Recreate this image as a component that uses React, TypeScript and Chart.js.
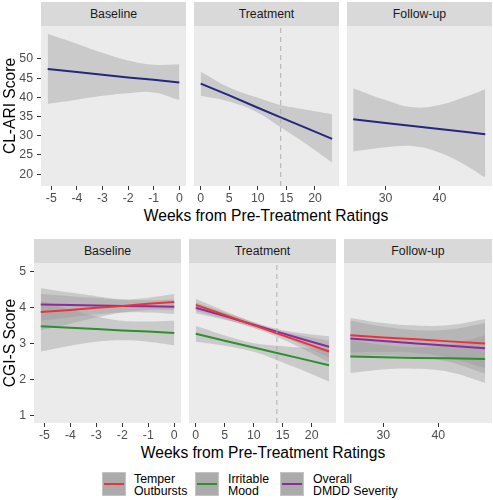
import React, { useEffect, useRef } from 'react';
import { Chart, registerables } from 'chart.js';
Chart.register(...registerables);

const FONT = '"Liberation Sans", Arial, Helvetica, sans-serif';
const BAND = 'rgba(153,153,153,0.4)';

// ---------- categories / ticks ----------
const phases = ['Baseline', 'Treatment', 'Follow-up'];
const baselineWeeks = [-5.14, -4, -3, -2, -1, 0];
const treatmentWeeks = [0, 5, 10, 14, 18, 23];
const followWeeksAri = [24.0, 30, 35, 40, 45, 48.5];
const followWeeksCgi = [24.0, 30, 36, 42, 48.5];
const baselineTicks = [-5, -4, -3, -2, -1, 0];
const treatmentTicks = [0, 5, 10, 15, 20];
const followTicks = [30, 40];
const ariTicks = [20, 25, 30, 35, 40, 45, 50];
const cgiTicks = [1, 2, 3, 4, 5];
const medicationWeek = 14;

const legendLabels = [['Temper', 'Outbursts'], ['Irritable', 'Mood'], ['Overall', 'DMDD Severity']];
const ARI_COLOR = '#262682';
const seriesColors = ['#EA3339', '#2E8F2E', '#8E2A9E'];

// ---------- CL-ARI (top) ----------
const ariBaseFit = [47.4, 46.6, 45.9, 45.2, 44.6, 43.9];
const ariBaseHi = [56.5, 54.0, 51.6, 49.6, 48.5, 48.6];
const ariBaseLo = [38.3, 39.4, 40.4, 41.1, 41.3, 39.3];

const ariTreatFit = [43.6, 40.5, 37.3, 34.8, 32.3, 29.2];
const ariTreatHi = [46.7, 42.6, 39.9, 38.0, 36.9, 35.6];
const ariTreatLo = [40.4, 38.9, 36.0, 32.2, 28.3, 23.0];

const ariFollowFit = [34.3, 33.35, 32.55, 31.75, 30.95, 30.4];
const ariFollowHi = [42.4, 39.3, 37.4, 38.0, 40.2, 42.1];
const ariFollowLo = [25.9, 27.0, 27.3, 25.6, 22.2, 19.1];

// ---------- CGI-S (bottom) ----------
// Temper Outbursts
const temperBaseFit = [3.87, 3.93, 3.99, 4.04, 4.10, 4.15];
const temperBaseHi = [4.37, 4.31, 4.26, 4.22, 4.27, 4.37];
const temperBaseLo = [3.37, 3.55, 3.72, 3.86, 3.93, 3.93];
const temperTreatFit = [4.07, 3.79, 3.51, 3.28, 3.06, 2.78];
const temperTreatHi = [4.24, 3.90, 3.59, 3.37, 3.23, 3.08];
const temperTreatLo = [3.90, 3.68, 3.43, 3.19, 2.89, 2.48];
const temperFollowFit = [3.23, 3.17, 3.12, 3.06, 3.00];
const temperFollowHi = [3.71, 3.57, 3.50, 3.51, 3.68];
const temperFollowLo = [2.75, 2.77, 2.74, 2.61, 2.32];

// Irritable Mood
const moodBaseFit = [3.48, 3.44, 3.40, 3.36, 3.33, 3.29];
const moodBaseHi = [4.18, 3.94, 3.75, 3.63, 3.61, 3.63];
const moodBaseLo = [2.78, 2.94, 3.05, 3.09, 3.05, 2.95];
const moodTreatFit = [3.27, 3.08, 2.89, 2.74, 2.59, 2.40];
const moodTreatHi = [3.49, 3.22, 3.01, 2.94, 2.89, 2.85];
const moodTreatLo = [3.05, 2.94, 2.77, 2.54, 2.29, 1.95];
const moodFollowFit = [2.64, 2.62, 2.60, 2.59, 2.57];
const moodFollowHi = [3.10, 2.96, 2.90, 2.97, 3.23];
const moodFollowLo = [2.18, 2.28, 2.30, 2.21, 1.91];

// Overall DMDD Severity
const overallBaseFit = [4.08, 4.07, 4.055, 4.04, 4.03, 4.02];
const overallBaseHi = [4.53, 4.41, 4.31, 4.22, 4.20, 4.22];
const overallBaseLo = [3.63, 3.73, 3.81, 3.86, 3.86, 3.82];
const overallTreatFit = [3.99, 3.76, 3.52, 3.33, 3.14, 2.91];
const overallTreatHi = [4.14, 3.86, 3.59, 3.41, 3.29, 3.20];
const overallTreatLo = [3.84, 3.66, 3.45, 3.25, 2.99, 2.62];
const overallFollowFit = [3.14, 3.07, 3.00, 2.94, 2.87];
const overallFollowHi = [3.64, 3.47, 3.37, 3.39, 3.57];
const overallFollowLo = [2.64, 2.67, 2.63, 2.49, 2.17];

type Series = { x: number[]; fit: number[]; hi: number[]; lo: number[]; color: string };
type Spec = {
  left: number; top: number; width: number; height: number;
  padL: number; padR: number; yWidth: number;
  xMin: number; xMax: number; yMin: number; yMax: number;
  xTicks: number[]; yTicks: number[];
  series: Series[]; vline?: number;
};

const bgPlugin = {
  id: 'panelBg',
  beforeDraw(chart: any) {
    const { ctx, chartArea: a } = chart;
    ctx.save();
    ctx.fillStyle = '#EBEBEB';
    ctx.fillRect(a.left, a.top, a.right - a.left, a.bottom - a.top);
    ctx.restore();
  },
};

function axisCommon(ticks: number[]) {
  return {
    type: 'linear' as const,
    afterBuildTicks: (sc: any) => { sc.ticks = ticks.map((v) => ({ value: v })); },
    grid: { display: true, drawOnChartArea: false, drawTicks: true, tickLength: 4, tickColor: '#333333', tickWidth: 1 },
    border: { display: false },
    ticks: {
      font: { family: FONT, size: 12.3 },
      color: '#4D4D4D',
      autoSkip: false,
      maxRotation: 0,
      callback: (v: any) => String(v),
    },
  };
}

function Panel({ spec }: { spec: Spec }) {
  const ref = useRef<HTMLCanvasElement>(null);
  useEffect(() => {
    if (!ref.current) return;
    const datasets: any[] = [];
    spec.series.forEach((s) => {
      datasets.push({
        data: s.x.map((x, i) => ({ x, y: s.hi[i] })),
        borderWidth: 0, pointRadius: 0, backgroundColor: BAND, fill: '+1', tension: 0.4, order: 3,
      });
      datasets.push({
        data: s.x.map((x, i) => ({ x, y: s.lo[i] })),
        borderWidth: 0, pointRadius: 0, fill: false, tension: 0.4, order: 3,
      });
    });
    spec.series.forEach((s) => {
      datasets.push({
        data: s.x.map((x, i) => ({ x, y: s.fit[i] })),
        borderColor: s.color, borderWidth: 2, pointRadius: 0, fill: false, tension: 0, order: 2,
      });
    });
    if (spec.vline !== undefined) {
      datasets.push({
        data: [{ x: spec.vline, y: spec.yMin }, { x: spec.vline, y: spec.yMax }],
        borderColor: '#AFAFAF', borderWidth: 1, borderDash: [5, 4], pointRadius: 0, fill: false, order: 1,
      });
    }
    const xAxis: any = axisCommon(spec.xTicks);
    xAxis.min = spec.xMin; xAxis.max = spec.xMax;
    xAxis.ticks.padding = 1;
    xAxis.afterFit = (sc: any) => { sc.height = 20; };
    const yAxis: any = axisCommon(spec.yTicks);
    yAxis.min = spec.yMin; yAxis.max = spec.yMax;
    yAxis.display = spec.yWidth > 0;
    yAxis.ticks.padding = 4;
    yAxis.afterFit = (sc: any) => { sc.width = spec.yWidth; };
    const chart = new Chart(ref.current, {
      type: 'line',
      data: { datasets },
      options: {
        animation: false,
        responsive: false,
        events: [],
        layout: { padding: { top: 14, bottom: 0, left: spec.padL, right: spec.padR } },
        plugins: { legend: { display: false }, tooltip: { enabled: false }, title: { display: false } },
        scales: { x: xAxis, y: yAxis },
      },
      plugins: [bgPlugin],
    } as any);
    return () => chart.destroy();
  }, [spec]);
  return (
    <canvas
      ref={ref}
      width={spec.width}
      height={spec.height}
      style={{ position: 'absolute', left: spec.left, top: spec.top, width: spec.width, height: spec.height }}
    />
  );
}

const ariSeries = (x: number[], fit: number[], hi: number[], lo: number[]): Series[] => [
  { x, fit, hi, lo, color: ARI_COLOR },
];

const topSpecs: Spec[] = [
  {
    left: 0, top: 12, width: 190, height: 194, padL: 0, padR: 4, yWidth: 41,
    xMin: -5.4, xMax: 0.26, yMin: 16.9, yMax: 58.6, xTicks: baselineTicks, yTicks: ariTicks,
    series: ariSeries(baselineWeeks, ariBaseFit, ariBaseHi, ariBaseLo),
  },
  {
    left: 190, top: 12, width: 153, height: 194, padL: 4, padR: 4, yWidth: 0,
    xMin: -1.17, xMax: 24.2, yMin: 16.9, yMax: 58.6, xTicks: treatmentTicks, yTicks: ariTicks,
    series: ariSeries(treatmentWeeks, ariTreatFit, ariTreatHi, ariTreatLo), vline: medicationWeek,
  },
  {
    left: 343, top: 12, width: 150, height: 194, padL: 4, padR: 1, yWidth: 0,
    xMin: 22.85, xMax: 49.75, yMin: 16.9, yMax: 58.6, xTicks: followTicks, yTicks: ariTicks,
    series: ariSeries(followWeeksAri, ariFollowFit, ariFollowHi, ariFollowLo),
  },
];

const cgiSeries = (x: number[], fits: number[][], his: number[][], los: number[][]): Series[] =>
  fits.map((fit, k) => ({ x, fit, hi: his[k], lo: los[k], color: seriesColors[k] }));

const bottomSpecs: Spec[] = [
  {
    left: 0, top: 249, width: 185, height: 194, padL: 0, padR: 4, yWidth: 34,
    xMin: -5.4, xMax: 0.26, yMin: 0.8, yMax: 5.23, xTicks: baselineTicks, yTicks: cgiTicks,
    series: cgiSeries(baselineWeeks,
      [temperBaseFit, moodBaseFit, overallBaseFit],
      [temperBaseHi, moodBaseHi, overallBaseHi],
      [temperBaseLo, moodBaseLo, overallBaseLo]),
  },
  {
    left: 185, top: 249, width: 155, height: 194, padL: 4, padR: 4, yWidth: 0,
    xMin: -1.17, xMax: 24.2, yMin: 0.8, yMax: 5.23, xTicks: treatmentTicks, yTicks: cgiTicks,
    series: cgiSeries(treatmentWeeks,
      [temperTreatFit, moodTreatFit, overallTreatFit],
      [temperTreatHi, moodTreatHi, overallTreatHi],
      [temperTreatLo, moodTreatLo, overallTreatLo]),
    vline: medicationWeek,
  },
  {
    left: 340, top: 249, width: 153, height: 194, padL: 4, padR: 1, yWidth: 0,
    xMin: 22.85, xMax: 49.75, yMin: 0.8, yMax: 5.23, xTicks: followTicks, yTicks: cgiTicks,
    series: cgiSeries(followWeeksCgi,
      [temperFollowFit, moodFollowFit, overallFollowFit],
      [temperFollowHi, moodFollowHi, overallFollowHi],
      [temperFollowLo, moodFollowLo, overallFollowLo]),
  },
];

const topStrips = [[41, 145], [194, 145], [347, 145]];
const bottomStrips = [[34, 147], [189, 147], [344, 148]];

const stripStyle = (left: number, top: number, width: number): React.CSSProperties => ({
  position: 'absolute', left, top, width, height: 24, background: '#D9D9D9', color: '#1A1A1A',
  font: `12.3px ${FONT}`, display: 'flex', alignItems: 'center', justifyContent: 'center',
});

const titleStyle: React.CSSProperties = {
  position: 'absolute', font: `15.6px ${FONT}`, color: '#000', whiteSpace: 'nowrap',
};

export default function App() {
  const legendX = [[101.5, 134], [195, 228], [280, 313]];
  return (
    <div style={{ position: 'absolute', left: 0, top: 0, width: 493, height: 500, background: '#fff', overflow: 'hidden' }}>
      {topStrips.map(([l, w], i) => (
        <div key={'ts' + i} style={stripStyle(l, 2, w)}>{phases[i]}</div>
      ))}
      {bottomStrips.map(([l, w], i) => (
        <div key={'bs' + i} style={stripStyle(l, 239, w)}>{phases[i]}</div>
      ))}
      {topSpecs.map((s, i) => <Panel key={'tp' + i} spec={s} />)}
      {bottomSpecs.map((s, i) => <Panel key={'bp' + i} spec={s} />)}

      <div style={{ ...titleStyle, left: 10, top: 106, transform: 'translate(-50%, -50%) rotate(-90deg)' }}>CL-ARI Score</div>
      <div style={{ ...titleStyle, left: 266, top: 216, transform: 'translate(-50%, -50%)' }}>Weeks from Pre-Treatment Ratings</div>
      <div style={{ ...titleStyle, left: 10, top: 343, transform: 'translate(-50%, -50%) rotate(-90deg)' }}>CGI-S Score</div>
      <div style={{ ...titleStyle, left: 263, top: 453, transform: 'translate(-50%, -50%)' }}>Weeks from Pre-Treatment Ratings</div>

      {legendLabels.map((lines, i) => (
        <React.Fragment key={'lg' + i}>
          <div style={{ position: 'absolute', left: legendX[i][0], top: 472, width: 24, height: 24, background: '#ABABAB', boxSizing: 'border-box', border: '1px solid #C4C4C4' }}>
            <div style={{ position: 'absolute', left: 1, right: 1, top: 10, height: 2, background: seriesColors[i] }} />
          </div>
          <div style={{ position: 'absolute', left: legendX[i][1], top: 473, font: `12.3px ${FONT}`, lineHeight: '12px', color: '#000', whiteSpace: 'nowrap' }}>
            {lines[0]}<br />{lines[1]}
          </div>
        </React.Fragment>
      ))}
    </div>
  );
}
